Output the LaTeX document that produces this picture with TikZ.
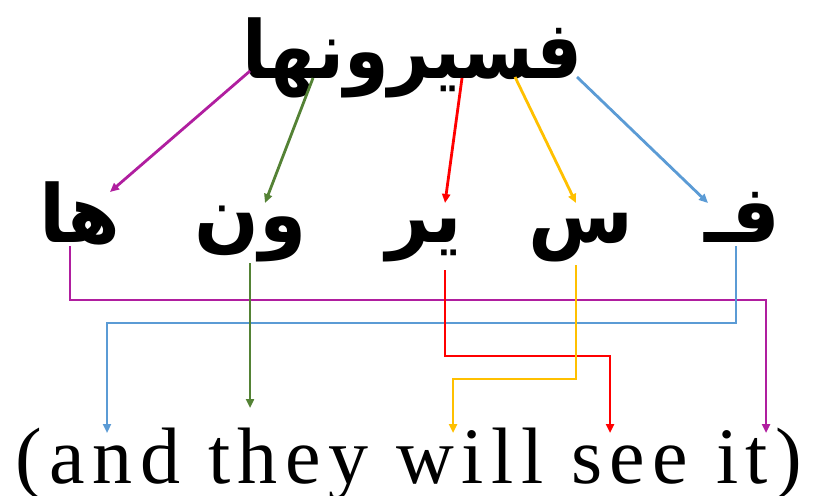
\documentclass[tikz,border=0pt]{standalone}
\usepackage{fontspec}
\usepackage{tikz}
\usetikzlibrary{arrows.meta, calc}
\TeXXeTstate=1
\newfontfamily\arabicfont[Script=Arabic]{DejaVu Sans}
\newfontfamily\engfont[LetterSpace=9.5]{Liberation Serif}
\definecolor{segpurple}{HTML}{B01E9F}
\definecolor{seggreen}{HTML}{548235}
\definecolor{segred}{HTML}{FF0000}
\definecolor{segyellow}{HTML}{FFC000}
\definecolor{segblue}{HTML}{5B9BD5}

\begin{document}
\begin{tikzpicture}[
    x=1pt, y=-1pt,
    arab/.style={anchor=base, inner sep=0pt, xscale=0.95, font=\arabicfont\bfseries\fontsize{80}{96}\selectfont},
    gloss/.style={anchor=base, inner sep=0pt, font=\engfont\fontsize{80}{96}\selectfont},
    link/.style={-{Triangle[length=9pt, width=8pt]}, line width=2.8pt, #1}
  ]
    \useasboundingbox (0,0) rectangle (813,495);

    % whole word
    \node[arab, xscale=0.945] (word) at (413,78) {\beginR فسيرونها\endR};

    % segments
    \node[arab] (ha) at (80,242) {\beginR ها\endR};
    \node[arab] (wn) at (251,242) {\beginR ون\endR};
    \node[arab] (yr) at (424,242) {\beginR ير\endR};
    \node[arab] (s) at (581,242) {\beginR س\endR};
    \node[arab] (f) at (742,242) {\beginR فـ\endR};

    % translation
    \node[gloss] (eng) at (409,483) {(and they will see it)};

    % points on the word and the segments
    \coordinate (w-ha) at (250,71);
    \coordinate (w-wn) at (313,78);
    \coordinate (w-yr) at (462,78);
    \coordinate (w-s) at (515,77);
    \coordinate (w-f) at (577,77);
    \coordinate (ha-in) at (110,192);
    \coordinate (wn-in) at (265,203);
    \coordinate (yr-in) at (445,203);
    \coordinate (s-in) at (576,203);
    \coordinate (f-in) at (708,203);

    \coordinate (ha-out) at (70,246);
    \coordinate (wn-out) at (250,263);
    \coordinate (yr-out) at (445,270);
    \coordinate (s-out) at (576,265);
    \coordinate (f-out) at (736,246);
    \coordinate (it-in) at (766,433);
    \coordinate (and-in) at (107,433);
    \coordinate (they-in) at (250,408);
    \coordinate (see-in) at (610,433);
    \coordinate (will-in) at (453,433);

    % word -> segments
    \foreach \a/\b/\c in {w-ha/ha-in/segpurple, w-wn/wn-in/seggreen,
                          w-yr/yr-in/segred, w-s/s-in/segyellow, w-f/f-in/segblue} {
      \draw[link=\c] (\a) -- (\b);
    }

    % segments -> translation
    \draw[link=segpurple] (ha-out) -- (ha-out |- 0,300) -| (it-in);
    \draw[link=segblue] (f-out) -- (f-out |- 0,323) -| (and-in);
    \draw[link=seggreen] (wn-out) -- (they-in);
    \draw[link=segred] (yr-out) -- (yr-out |- 0,356) -| (see-in);
    \draw[link=segyellow] (s-out) -- (s-out |- 0,379) -| (will-in);
  \end{tikzpicture}
\end{document}
